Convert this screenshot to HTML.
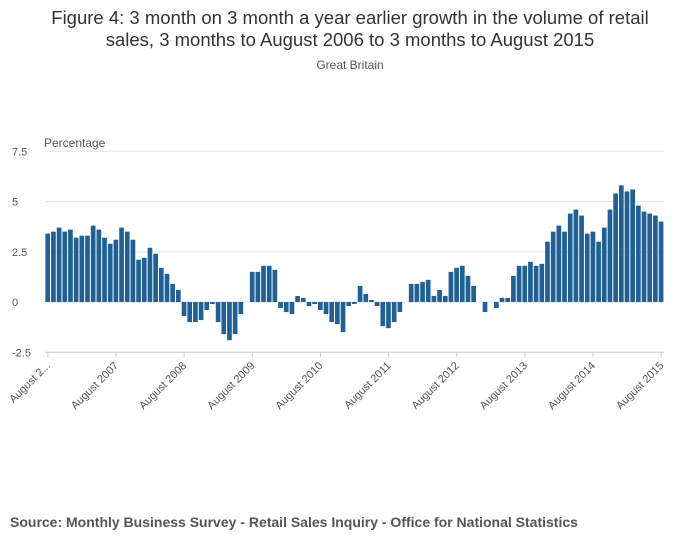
<!DOCTYPE html>
<html><head><meta charset="utf-8"><style>
body{margin:0;background:#fff;font-family:"Liberation Sans",sans-serif;}
#wrap{position:relative;width:700px;height:549px;overflow:hidden;}
</style></head><body>
<div id="wrap">
<svg id="chart" width="700" height="549">
<text x="350" y="24" text-anchor="middle" font-size="18.5" fill="#333">Figure 4: 3 month on 3 month a year earlier growth in the volume of retail</text>
<text x="350" y="46" text-anchor="middle" font-size="18.5" fill="#333">sales, 3 months to August 2006 to 3 months to August 2015</text>
<text x="350" y="69" text-anchor="middle" font-size="12" fill="#555">Great Britain</text>
<text x="44" y="147" font-size="12" fill="#555">Percentage</text>
<text x="10" y="527" font-size="14" font-weight="bold" fill="#555">Source: Monthly Business Survey - Retail Sales Inquiry - Office for National Statistics</text>
<g id="grid"></g><g id="bars"></g><g id="xaxis"></g>
</svg>
</div>
<script>
const values=[3.4,3.5,3.7,3.5,3.6,3.2,3.3,3.3,3.8,3.6,3.2,2.9,3.1,3.7,3.5,3.1,2.1,2.2,2.7,2.4,1.7,1.4,0.9,0.6,
-0.7,-1.0,-1.0,-0.9,-0.4,-0.1,-1.0,-1.6,-1.9,-1.6,-0.6,0,
1.5,1.5,1.8,1.8,1.6,-0.3,-0.5,-0.6,0.3,0.2,-0.2,-0.1,-0.4,-0.6,-1.0,-1.1,-1.5,-0.2,-0.1,0.8,0.4,0.1,-0.2,-1.2,-1.3,-1.0,-0.5,0,
0.9,0.9,1.0,1.1,0.3,0.6,0.3,1.5,1.7,1.8,1.3,0.8,0,-0.5,0,-0.3,0.2,0.2,1.3,1.8,1.8,2.0,1.8,1.9,3.0,3.5,3.8,3.5,4.4,4.6,4.3,3.4,3.5,3.0,3.7,4.6,5.4,5.8,5.5,5.6,4.8,4.5,4.4,4.3,4.0];
const yTicks=[-2.5,0,2.5,5,7.5];
const yTickLabels=["-2.5","0","2.5","5","7.5"];
const xLabels=["August 2...","August 2007","August 2008","August 2009","August 2010","August 2011","August 2012","August 2013","August 2014","August 2015"];
const NS="http://www.w3.org/2000/svg";
const x0=45,x1=664,band=(x1-x0)/values.length;
function y(v){return 302-v*20.1;}
function mk(t,a){const e=document.createElementNS(NS,t);for(const k in a)e.setAttribute(k,a[k]);return e;}
const grid=document.getElementById('grid');
yTicks.forEach((t,i)=>{
 if(t>-2.5){const l=mk('line',{x1:x0,x2:x1,y1:y(t),y2:y(t),stroke:'#e4e4e4','stroke-width':1});
 
 grid.appendChild(l);}
 const tx=mk('text',{x:12,y:y(t)+4,'font-size':11,fill:'#555'});tx.textContent=yTickLabels[i];
 
 grid.appendChild(tx);
});
const bars=document.getElementById('bars');
values.forEach((v,i)=>{
 const top=y(Math.max(v,0)),h=Math.abs(y(v)-y(0));
 const r=mk('rect',{x:x0+i*band+0.4,y:top,width:band-1,height:h,fill:'#206095'});
 
 bars.appendChild(r);
});
const xa=document.getElementById('xaxis');
const ax=mk('line',{x1:x0,x2:x1,y1:y(-2.5),y2:y(-2.5),stroke:'#ccc'});

xa.appendChild(ax);
xLabels.forEach((lab,k)=>{
 const cx=x0+(k*12+0.5)*band;
 const tk=mk('line',{x1:cx,x2:cx,y1:y(-2.5),y2:y(-2.5)+5,stroke:'#ccc'});
 
 xa.appendChild(tk);
 const t=mk('text',{x:cx+3,y:y(-2.5)+14,'font-size':11,fill:'#555','text-anchor':'end',transform:`rotate(-45 ${cx+3} ${y(-2.5)+14})`});
 t.textContent=lab;
 
 xa.appendChild(t);
});
</script>
</body></html>
